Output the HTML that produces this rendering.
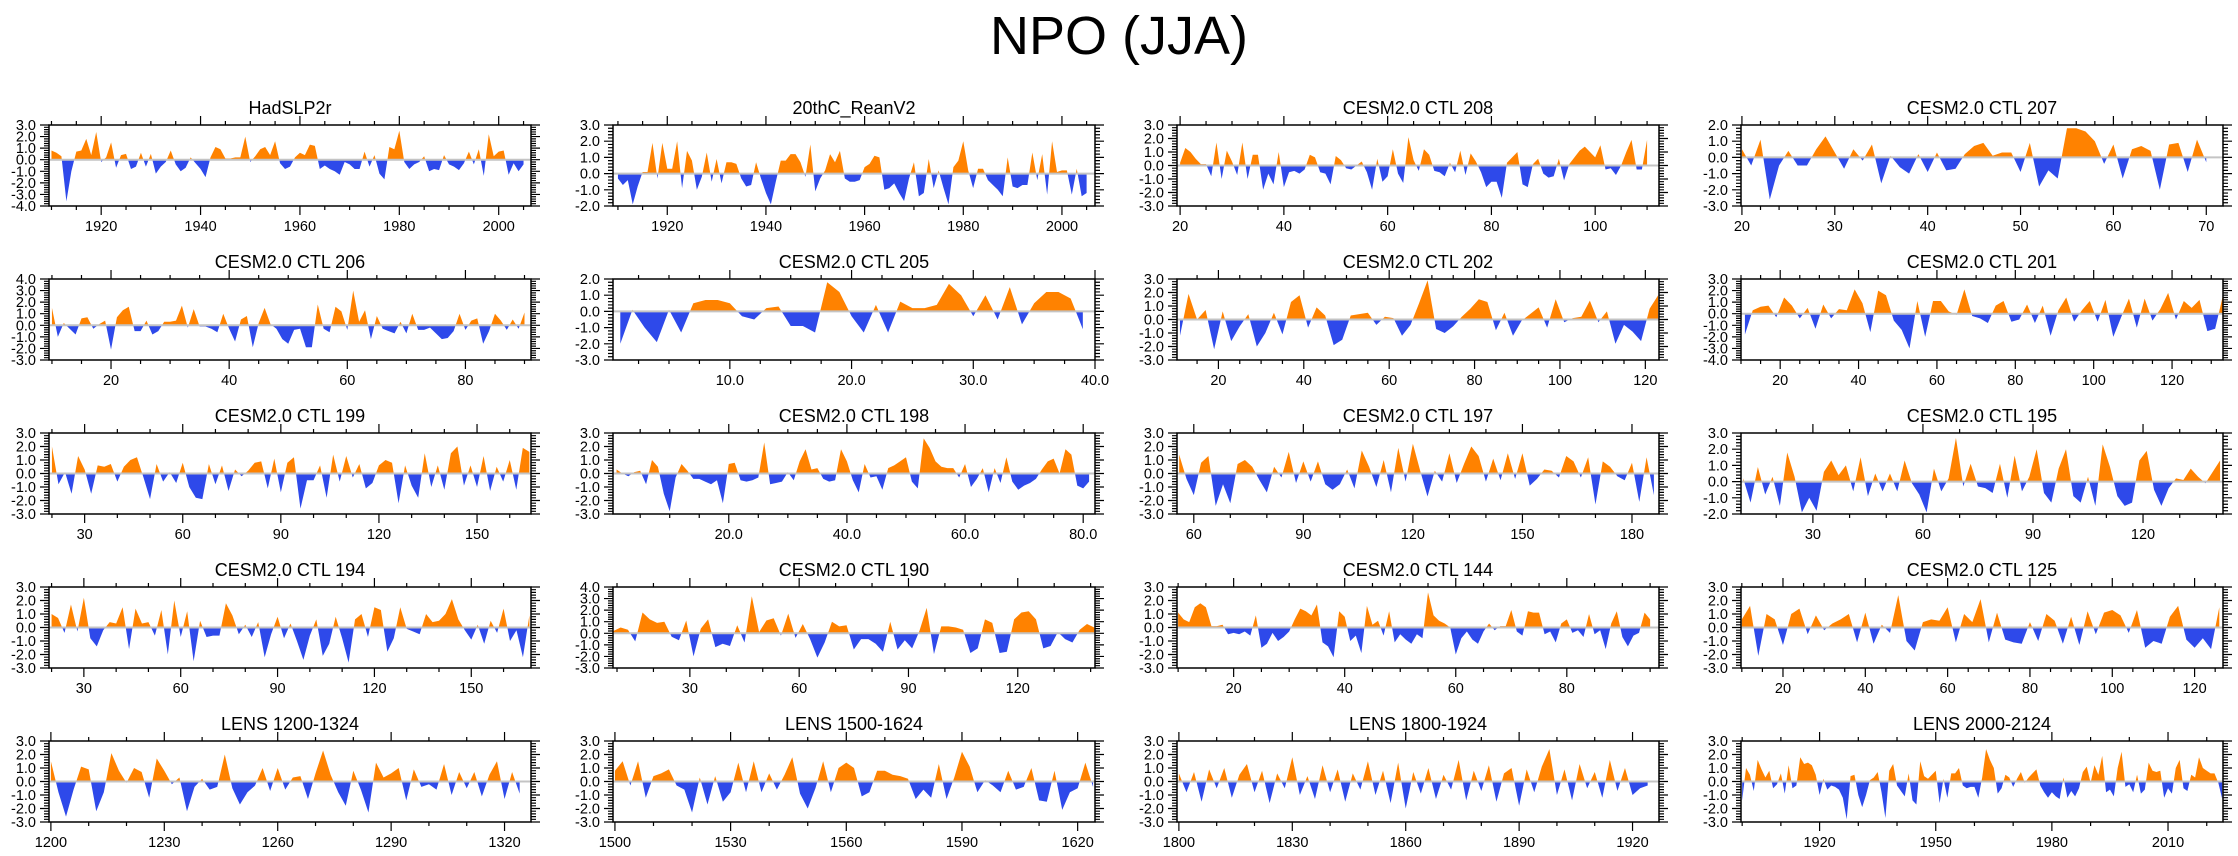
<!DOCTYPE html>
<html><head><meta charset="utf-8"><title>NPO (JJA)</title>
<style>
html,body{margin:0;padding:0;background:#fff;}
svg{display:block;font-family:"Liberation Sans",Arial,sans-serif;}
</style></head>
<body>
<svg id="fig" width="2238" height="856" viewBox="0 0 2238 856" xmlns="http://www.w3.org/2000/svg">
<text x="1119" y="54" text-anchor="middle" font-size="54">NPO (JJA)</text>
</svg>
<script>
// ---- data ----
const panelTitles = ["HadSLP2r","20thC_ReanV2","CESM2.0 CTL 208","CESM2.0 CTL 207",
"CESM2.0 CTL 206","CESM2.0 CTL 205","CESM2.0 CTL 202","CESM2.0 CTL 201",
"CESM2.0 CTL 199","CESM2.0 CTL 198","CESM2.0 CTL 197","CESM2.0 CTL 195",
"CESM2.0 CTL 194","CESM2.0 CTL 190","CESM2.0 CTL 144","CESM2.0 CTL 125",
"LENS 1200-1324","LENS 1500-1624","LENS 1800-1924","LENS 2000-2124"];
const xStarts = [1910,1910,20,20,10,1,11,11,20,1,56,11,20,9,10,10,1200,1500,1800,1900];
const xSteps  = [1,1,1,1,1,1,2,2,2,1,2,2,2,2,1,2,2,2,2,1];
const xMins = [1909.5,1909,19.4,19.9,9.5,0.4,10.3,10,19.1,0.4,55.4,10.4,19.2,8.9,9.8,9.8,1199.5,1499.5,1799.5,1899.7];
const xMaxs = [2006.5,2006.7,112.3,71.8,91.1,40.0,123.2,133,166.5,82,187.4,141.8,168.5,141.2,96.6,126.9,1327,1624.5,1927,2024.2];
const yMins = [-4,-2,-3,-3,-3,-3,-3,-4,-3,-3,-3,-2,-3,-3,-3,-3,-3,-3,-3,-3];
const yMaxs = [3,3,3,2,4,2,3,3,3,3,3,3,3,4,3,3,3,3,3,3];
const xTicks = [[1920,1940,1960,1980,2000],[1920,1940,1960,1980,2000],[20,40,60,80,100],[20,30,40,50,60,70],
[20,40,60,80],[10,20,30,40],[20,40,60,80,100,120],[20,40,60,80,100,120],
[30,60,90,120,150],[20,40,60,80],[60,90,120,150,180],[30,60,90,120],
[30,60,90,120,150],[30,60,90,120],[20,40,60,80],[20,40,60,80,100,120],
[1200,1230,1260,1290,1320],[1500,1530,1560,1590,1620],[1800,1830,1860,1890,1920],[1920,1950,1980,2010]];
const xTickDecimals = [0,0,0,0,0,1,0,0,0,1,0,0,0,0,0,0,0,0,0,0];
const xMinorSteps = [5,5,5,2,5,2.5,5,5,10,5,10,10,10,10,5,5,10,10,10,10];

const v0 = [0.8,0.6,0.3,-3.6,-1.0,0.7,0.8,1.8,0.4,2.4,-0.2,0.2,1.5,-0.7,0.4,0.5,-0.8,-0.6,0.6,-0.6,0.5,-1.2,-0.6,-0.2,0.8,-0.4,-1.0,-0.7,0.2,-0.3,-0.8,-1.5,0.2,1.1,0.9,0.1,0.1,0.2,0.2,2.0,-0.2,0.3,0.9,1.1,0.4,1.6,-0.3,-0.8,-0.6,0.2,0.6,0.4,1.3,1.2,-0.8,-0.5,-0.8,-1.0,-1.3,-0.2,-0.4,-0.8,-0.8,0.7,-0.6,0.4,-1.2,-1.7,1.1,0.9,2.5,-0.2,-0.8,-0.4,-0.2,0.3,-1.0,-0.8,-0.9,0.4,-0.4,-0.6,-0.9,-0.3,0.7,-0.4,0.9,-1.4,2.2,0.3,0.7,0.8,-1.3,-0.3,-1.0,-0.4];
const v1 = [-0.3,-0.7,-0.4,-1.9,-0.8,0.1,0.1,1.9,-0.3,1.9,0.3,0.3,2.0,-0.9,1.4,0.8,-1.0,-0.2,1.3,-0.5,0.9,-0.6,0.7,0.7,0.6,-0.3,-0.8,-0.7,0.7,-0.3,-1.2,-1.9,-0.5,0.8,0.8,1.2,1.2,0.7,-0.2,1.8,-1.1,-0.3,0.2,1.2,0.7,1.4,-0.3,-0.5,-0.5,-0.4,0.4,0.6,1.1,1.0,-1.0,-0.9,-0.6,-1.2,-1.7,-0.3,0.7,-1.4,-1.2,0.9,-0.9,0.2,-0.9,-1.9,0.4,0.8,2.0,0.2,-0.9,0.3,0.3,-0.4,-0.7,-1.0,-1.4,1.0,-0.8,-0.9,-0.7,-0.7,1.3,-0.4,1.2,-1.3,2.0,0.1,0.2,0.2,-1.3,0.3,-1.4,-1.2];
const v2 = [0.2,1.3,1.0,0.5,0.1,0.1,-0.8,1.7,-1.0,1.1,0.3,-0.7,1.7,-1.0,0.8,0.8,-1.8,-0.6,-1.4,1.0,-1.6,-0.5,-0.4,-0.6,-0.3,0.8,0.6,-0.5,-0.6,-1.4,0.7,0.4,-0.2,-0.3,0.0,0.3,-0.5,-1.8,0.5,-1.2,-0.8,1.2,-0.6,-1.3,2.1,0.4,-0.4,1.2,0.8,-0.4,-0.5,-0.8,0.2,-0.5,1.1,-0.7,0.9,0.3,-0.5,-1.6,-1.2,-1.2,-2.4,0.2,0.6,1.0,-1.4,-1.6,0.1,0.5,-0.6,-0.9,-0.8,0.5,-1.1,0.1,0.6,1.1,1.4,1.0,0.6,1.5,-0.3,-0.2,-0.7,0.0,1.0,1.9,-0.3,-0.3,1.9];
const v3 = [0.5,-0.5,1.1,-2.6,-0.5,0.4,-0.5,-0.5,0.5,1.3,0.3,-0.7,0.5,-0.2,0.8,-1.6,0.1,-0.6,-1.0,0.2,-0.9,0.3,-0.8,-0.7,0.2,0.7,0.9,0.1,0.3,0.3,-0.9,0.9,-1.8,-0.8,-1.3,1.8,1.8,1.6,1.0,-0.4,0.8,-1.3,0.5,0.7,0.4,-2.0,0.8,0.9,-0.9,1.1,-0.3];
const v4 = [1.5,-1.0,0.2,-0.3,-0.8,0.6,0.7,-0.3,0.1,0.4,-2.1,0.7,1.3,1.6,-0.5,-0.5,0.4,-0.8,-0.5,0.3,0.3,0.4,1.7,-0.2,1.4,-0.1,-0.1,-0.3,-0.6,1.0,-0.3,-1.4,0.5,0.8,-1.9,0.2,1.5,0.1,-0.3,-1.2,-1.6,-0.4,-0.3,-1.9,-1.9,1.8,-0.3,-0.6,1.6,1.2,-0.4,3.0,0.3,1.3,-1.2,0.8,-0.3,-0.5,-0.7,0.3,-0.7,1.0,-0.4,-0.4,-0.2,-0.7,-1.2,-1.1,-0.5,1.0,-0.4,0.4,0.6,-1.6,-0.5,1.0,0.4,-0.4,0.5,-0.3,1.1];
const v5 = [-2.0,0.1,-1.0,-1.9,0.1,-1.3,0.5,0.7,0.7,0.5,-0.3,-0.5,0.2,0.3,-0.9,-0.9,-1.3,1.8,1.2,-0.3,-1.3,0.4,-1.3,0.6,0.2,0.2,0.4,1.7,1.0,-0.3,1.0,-0.5,1.5,-0.8,0.5,1.2,1.2,0.8,-1.1];
const v6 = [-1.2,1.9,0.0,0.7,-2.2,0.6,-1.6,-0.5,0.4,-2.0,-1.0,0.5,-1.1,1.3,1.8,-0.6,0.9,0.3,-1.9,-1.5,0.3,0.4,0.5,-0.4,0.2,0.1,-1.2,-0.4,1.2,2.9,-0.7,-1.0,-0.5,0.2,0.8,1.5,1.3,-0.8,0.5,-1.2,-0.1,0.4,0.9,-0.6,1.5,-0.2,0.1,0.2,1.4,-0.2,0.6,-1.8,-0.4,-0.9,-1.6,0.8,1.8];
const v7 = [-1.8,0.3,0.6,0.7,-0.3,1.4,0.7,-0.4,0.5,-1.3,0.8,-0.4,0.4,0.3,2.1,0.9,-1.6,2.0,1.6,-0.6,-1.4,-3.0,1.1,-2.0,1.1,1.1,0.2,-0.1,2.1,-0.2,-0.4,-0.8,0.7,1.1,-0.7,-0.5,0.8,-0.8,0.7,-1.9,0.3,1.4,-0.7,0.3,1.1,-0.7,1.2,-2.0,-0.3,1.3,-1.2,1.3,-0.6,0.4,1.8,-0.5,1.1,0.5,1.2,-1.5,-1.3,1.6];
const v8 = [2.0,-0.8,0.1,-1.5,1.3,0.3,-1.5,0.6,0.5,0.7,-0.6,0.5,1.0,1.2,-0.3,-1.9,0.7,-0.6,0.1,-0.7,0.8,-1.0,-1.8,-1.9,0.7,-0.8,0.6,-1.3,0.3,-0.2,0.2,0.8,0.9,-1.1,1.1,-1.4,0.8,1.2,-2.6,-0.5,-0.5,0.6,-1.8,1.4,-0.6,1.3,-0.3,0.7,-1.1,-0.7,0.6,1.0,0.8,-2.2,0.6,-0.9,-1.8,1.5,-1.0,0.6,-1.2,1.5,2.0,-0.9,0.6,-1.0,1.3,-1.3,0.5,-0.6,1.0,-1.2,1.9,1.6];
const v9 = [0.3,0.0,-0.2,0.1,0.2,-0.8,1.0,0.5,-1.5,-2.8,-0.3,0.7,0.2,-0.4,-0.4,-0.6,-0.8,-0.5,-2.2,0.7,0.8,-0.5,-0.6,-0.5,-0.3,2.3,-0.8,-0.7,-0.6,0.1,-0.5,0.9,1.8,0.3,0.4,-0.4,-0.6,-0.5,1.8,0.9,-0.5,-1.4,0.7,-0.3,-0.2,-1.2,0.4,0.6,0.9,1.2,-0.6,-1.1,2.6,1.9,0.9,0.5,0.4,0.4,-0.3,0.7,-1.0,-0.4,0.4,-1.4,0.4,-0.7,1.2,-0.6,-1.2,-0.9,-0.7,-0.4,0.3,0.9,1.1,0.0,1.8,1.4,-0.9,-1.1,-0.6];
const v10 = [1.4,-0.4,-1.6,0.8,1.3,-2.4,-0.8,-2.2,0.7,1.0,0.5,-0.5,-1.4,0.5,-0.3,1.6,-0.7,0.9,-0.6,0.9,-0.8,-1.2,-0.8,0.3,-1.1,1.7,0.5,-1.0,1.0,-1.4,1.9,-0.6,2.2,0.2,-1.7,0.2,-0.6,1.5,-0.7,0.7,2.0,1.3,-0.6,1.1,-0.5,1.5,-0.4,1.5,-0.9,-0.4,0.3,0.2,-0.3,1.3,0.9,-0.3,1.2,-2.3,0.9,0.5,-0.2,-0.5,0.8,-2.1,1.2,-1.6];
const v11 = [0.2,-1.3,0.9,-0.8,0.3,-1.5,1.8,0.3,-1.9,-1.0,-1.8,0.6,1.3,0.4,1.0,-0.6,1.5,-0.9,0.5,-0.6,0.5,-0.6,1.3,-0.1,-0.8,-1.9,0.8,-0.6,0.2,2.7,-0.3,1.1,-0.3,-0.4,-0.7,1.1,-1.0,1.6,-0.6,0.3,2.0,-0.7,-1.3,0.8,2.0,-0.9,-1.3,0.3,-1.5,2.3,0.9,-0.9,-1.5,-1.3,1.3,1.9,-0.5,-1.5,-0.4,0.2,0.1,0.8,0.3,-0.1,0.6,1.3];
const v12 = [1.0,0.7,-0.4,1.7,-0.3,2.2,-0.8,-1.4,-0.2,0.4,0.3,1.5,-1.6,1.4,0.3,0.4,-0.6,1.3,-2.0,2.0,-0.7,1.2,-2.5,0.5,-0.7,-0.6,-0.6,1.8,0.9,-0.5,0.2,-0.7,0.4,-2.2,-0.5,0.8,-0.8,0.3,-1.0,-2.4,-0.6,0.6,-2.1,-1.2,0.8,-0.8,-2.6,0.6,1.0,-0.7,1.5,1.3,-1.8,-0.8,1.5,-0.1,-0.3,-0.5,1.0,0.4,0.5,1.0,2.1,0.6,-0.2,-0.9,0.2,-1.2,0.5,-0.4,1.4,-1.0,-0.2,-2.2,0.9];
const v13 = [0.2,0.5,0.3,-0.7,1.8,1.2,0.9,1.0,-0.3,-0.6,1.1,-2.0,0.4,1.2,-1.2,-0.9,-1.1,0.7,-0.8,3.2,0.1,1.1,1.3,-0.2,1.7,-0.4,0.8,-0.5,-2.1,-0.8,1.0,0.6,0.7,-1.4,-0.5,-0.5,-0.9,-1.6,1.0,-1.4,-0.6,-1.3,0.2,2.2,-1.8,0.6,0.6,0.5,0.3,-1.7,-1.3,1.2,0.9,-1.7,-1.6,1.2,1.8,1.9,1.2,-1.3,-1.1,0.1,-0.5,-0.8,0.3,0.8,0.5];
const v14 = [1.1,0.6,0.4,1.5,1.8,1.5,0.1,0.1,0.2,-0.5,-0.4,-0.5,-0.3,-0.6,0.9,-1.5,-1.2,-0.4,-1.0,-0.7,-0.3,0.6,1.4,1.2,0.9,1.7,-1.1,-1.4,-2.2,1.2,0.8,-1.0,-0.6,-1.9,1.6,0.2,0.5,-0.6,1.2,-1.1,-0.5,-0.9,-1.2,-0.5,-0.8,2.6,0.9,0.5,0.3,0.0,-2.0,-0.8,-0.3,-0.9,-1.2,-0.3,0.3,-0.2,0.1,0.1,1.3,-0.3,-0.6,1.2,1.1,1.1,-0.5,-0.3,-1.1,0.3,0.6,-0.4,-0.2,-0.7,1.0,-0.5,-0.2,-1.6,0.3,1.2,-0.7,-1.4,-0.6,-0.4,1.1,0.6];
const v15 = [0.6,1.6,-2.1,1.0,0.6,-1.3,1.0,1.4,-0.5,0.9,-0.2,0.3,0.6,1.0,-1.1,1.1,-1.2,0.2,-0.4,2.4,-1.0,-1.7,0.4,0.6,0.5,1.5,-1.1,1.0,0.4,2.1,-1.1,1.1,-0.9,-1.1,-1.2,0.4,-1.0,1.0,0.5,-1.2,0.8,-1.3,1.2,-0.5,1.1,1.3,0.9,-0.4,1.3,-1.5,-1.0,-1.2,0.8,1.6,-0.9,-1.5,-0.8,-1.6,1.5];
const v16 = [1.5,-0.8,-2.6,-0.6,1.1,0.9,-2.2,-0.8,2.1,0.8,-0.1,1.0,0.7,-1.2,1.7,0.8,-0.2,0.3,-2.2,-0.4,0.2,-0.6,-0.4,2.0,-0.5,-1.7,-0.8,-0.3,1.0,-0.7,1.0,-0.6,0.3,0.4,-1.3,0.6,2.3,0.5,-0.8,-1.8,0.8,-0.6,-2.3,1.4,0.3,0.6,1.0,-1.4,0.9,-0.4,-0.2,-0.6,1.3,-1.0,0.7,-0.5,0.7,-1.1,0.5,1.5,-1.3,0.7,-0.9];
const v17 = [0.8,1.5,-0.3,1.5,-1.2,0.4,0.6,0.9,-0.3,-0.6,-2.3,0.3,-1.7,0.4,-1.5,-0.8,1.4,-0.8,1.5,-0.8,0.6,-0.6,0.5,1.8,-0.9,-2.0,-0.5,1.5,-0.8,1.0,1.4,1.0,-1.1,-0.8,0.8,0.8,0.5,0.4,0.2,-1.3,-0.6,-1.2,1.3,-1.3,0.3,2.2,1.1,-0.8,0.1,-0.3,-0.8,0.8,-0.6,-0.4,1.0,-1.4,-1.5,0.8,-2.1,-0.8,-0.5,1.4,-0.4];
const v18 = [0.6,-0.8,0.7,-1.5,0.9,-0.5,1.0,-1.2,0.5,1.3,-0.8,0.8,-1.6,0.6,-0.5,1.8,-1.0,0.4,-1.3,1.2,-0.8,0.9,-1.5,0.6,-0.6,1.5,-1.0,0.8,-1.6,1.4,-2.0,0.7,-0.9,1.0,-1.3,0.5,-0.6,1.6,-1.4,0.8,-0.7,1.2,-1.5,0.6,1.0,-1.8,0.9,-0.8,1.1,2.4,-1.0,0.9,-1.4,1.3,-0.5,0.7,-1.2,1.6,-0.7,1.0,-1.0,-0.5,-0.3];
const v19 = [-1.4,1.0,0.5,-0.7,1.6,0.9,0.3,0.8,-0.5,-0.2,0.6,-0.9,1.2,-0.5,-0.3,1.8,1.3,1.4,1.2,0.5,-1.0,0.2,-0.6,-0.3,-0.4,-0.6,-1.2,-2.8,0.4,0.5,-1.0,-1.9,-1.0,0.1,0.3,0.7,-0.8,-2.7,0.8,1.3,-0.3,-0.7,-1.1,0.6,-1.4,-1.7,1.5,0.4,0.2,0.5,0.8,-1.6,0.2,-1.2,0.6,0.6,1.0,-0.3,-0.5,-0.4,-0.4,-1.2,0.3,2.4,1.6,1.0,-0.9,-0.5,0.5,0.3,-0.4,0.2,0.7,-0.1,0.3,0.6,0.9,-0.3,-0.8,-1.2,-0.8,-1.1,-1.3,0.3,-1.2,-0.7,-1.1,-0.5,0.7,1.1,-0.1,1.2,0.5,1.9,-0.8,-0.6,-1.1,1.0,2.2,-0.4,-0.2,-0.8,0.5,-0.9,-0.6,1.4,0.8,0.7,0.8,-1.2,-0.5,-0.9,1.0,1.6,-0.5,-0.7,0.5,0.3,1.8,1.0,0.8,0.6,0.6,-0.1,-1.3];
const panelValues = [v0,v1,v2,v3,v4,v5,v6,v7,v8,v9,v10,v11,v12,v13,v14,v15,v16,v17,v18,v19];

// ---- layout ----
const colLeft = [49,613,1177,1741];
const rowTop = [125,279,433,587,741];
const PW = 482, PH = 81;
const ORANGE = "#ff8200", BLUE = "#2e49ea";
const NS = "http://www.w3.org/2000/svg";
const svg = document.getElementById("fig");

function mk(tag, attrs, parent){
  const e = document.createElementNS(NS, tag);
  for (const k in attrs) e.setAttribute(k, attrs[k]);
  parent.appendChild(e);
  return e;
}
function slug(s){ return s.toLowerCase().replace(/[^a-z0-9]+/g,'-').replace(/^-|-$/g,''); }

panelTitles.forEach((title, p) => {
  const L = colLeft[p % 4], T = rowTop[Math.floor(p / 4)];
  const R = L + PW, B = T + PH;
  const xmin = xMins[p], xmax = xMaxs[p], ymin = yMins[p], ymax = yMaxs[p];
  const xs = v => L + (v - xmin) / (xmax - xmin) * PW;
  const ys = v => B - (v - ymin) / (ymax - ymin) * PH;
  const g = mk("g", {}, svg);
  
  

  const tt = mk("text", {x: L + PW/2, y: T - 11, "text-anchor": "middle", "font-size": 18}, g);
  tt.textContent = title;
  
  

  const vals = panelValues[p];
  const y0 = ys(0);
  let pts = [];
  vals.forEach((v, i) => { const xv = xStarts[p] + i * xSteps[p]; pts.push(xs(xv).toFixed(2) + "," + ys(v).toFixed(2)); });
  const firstX = xs(xStarts[p]).toFixed(2), lastX = xs(xStarts[p] + (vals.length - 1) * xSteps[p]).toFixed(2);
  const poly = firstX + "," + y0 + " " + pts.join(" ") + " " + lastX + "," + y0;
  const defs = mk("defs", {}, g);
  const cUp = mk("clipPath", {id: "cu" + p}, defs);
  mk("rect", {x: L, y: T, width: PW, height: y0 - T}, cUp);
  const cDn = mk("clipPath", {id: "cd" + p}, defs);
  mk("rect", {x: L, y: y0, width: PW, height: B - y0}, cDn);
  const pos = mk("polygon", {points: poly, fill: ORANGE, "clip-path": "url(#cu" + p + ")"}, g);
  
  
  const neg = mk("polygon", {points: poly, fill: BLUE, "clip-path": "url(#cd" + p + ")"}, g);
  
  
  const zl = mk("line", {x1: L, x2: R, y1: y0, y2: y0, stroke: "#c4c4c4", "stroke-width": 2}, g);
  
  

  const fr = mk("rect", {x: L, y: T, width: PW, height: PH, fill: "none", stroke: "#000", "stroke-width": 1.5}, g);
  
  

  let tp = "";
  for (let k = 0; ymin + k * 0.2 <= ymax + 1e-6; k++) {
    const v = ymin + k * 0.2, yy = ys(v).toFixed(2);
    const major = (k % 5 === 0);
    const len = major ? 9 : 5;
    tp += "M" + L + "," + yy + "h-" + len + "M" + R + "," + yy + "h" + len;
  }
  for (let v = ymin; v <= ymax + 1e-6; v += 1) {
    const lab = mk("text", {x: L - 13, y: ys(v) + 5, "text-anchor": "end", "font-size": 14.5}, g);
    lab.textContent = v.toFixed(1);
    
    
  }
  const ms = xMinorSteps[p];
  for (let v = Math.ceil(xmin / ms) * ms; v <= xmax + 1e-6; v += ms) {
    const xx = xs(v).toFixed(2);
    tp += "M" + xx + "," + T + "v-4M" + xx + "," + B + "v4";
  }
  xTicks[p].forEach(v => {
    const xx = xs(v).toFixed(2);
    tp += "M" + xx + "," + T + "v-9M" + xx + "," + B + "v9";
    const lab = mk("text", {x: xx, y: B + 25, "text-anchor": "middle", "font-size": 14.5}, g);
    lab.textContent = v.toFixed(xTickDecimals[p]);
    
    
  });
  const ticks = mk("path", {d: tp, stroke: "#000", "stroke-width": 1.2, fill: "none"}, g);
  
  
});
</script>
</body></html>
